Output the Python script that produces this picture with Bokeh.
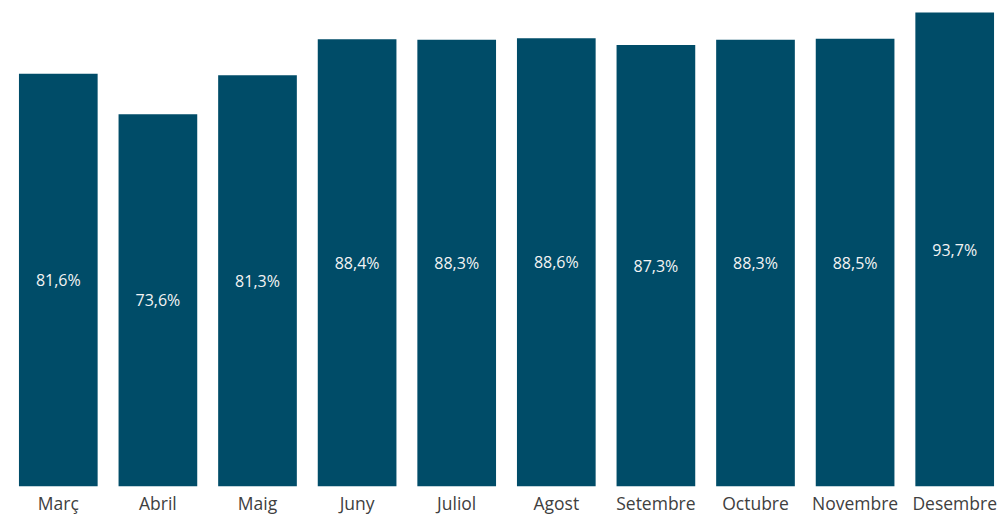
from bokeh.plotting import figure
from bokeh.models import ColumnDataSource, FactorRange, Range1d
from bokeh.core.properties import value
from bokeh.embed import file_html
from bokeh.resources import INLINE

months = ["Març", "Abril", "Maig", "Juny", "Juliol", "Agost", "Setembre", "Octubre", "Novembre", "Desembre"]
values = [81.6, 73.6, 81.3, 88.4, 88.3, 88.6, 87.3, 88.3, 88.5, 93.7]

labels = [f"{v:.1f}%".replace(".", ",") for v in values]
mids = [v / 2 for v in values]
src = ColumnDataSource(dict(x=months, top=values, mid=mids, label=labels))

p = figure(x_range=FactorRange(*months, range_padding=0), y_range=Range1d(0, 94.5),
           width=1004, height=517, output_backend="svg", toolbar_location=None,
           min_border_left=8, min_border_right=0, min_border_top=8, min_border_bottom=31)
p.vbar(x="x", top="top", width=0.79, source=src, color="#004C68", line_color=None)
p.text(x="x", y="mid", text="label", source=src, text_color="#F4F4F4",
       text_font=value("Open Sans"), text_font_size="16px",
       text_align="center", text_baseline="middle")

p.yaxis.visible = False
p.xgrid.visible = False
p.ygrid.visible = False
p.outline_line_color = None
p.xaxis.axis_line_color = None
p.xaxis.major_tick_line_color = None
p.xaxis.minor_tick_line_color = None
p.xaxis.major_tick_in = 0
p.xaxis.major_tick_out = 0
p.xaxis.major_label_standoff = 4
p.xaxis.major_label_text_font = "Open Sans"
p.xaxis.major_label_text_font_size = "17.5px"
p.xaxis.major_label_text_color = "#404040"

open("out.html", "w").write(file_html(p, INLINE))
